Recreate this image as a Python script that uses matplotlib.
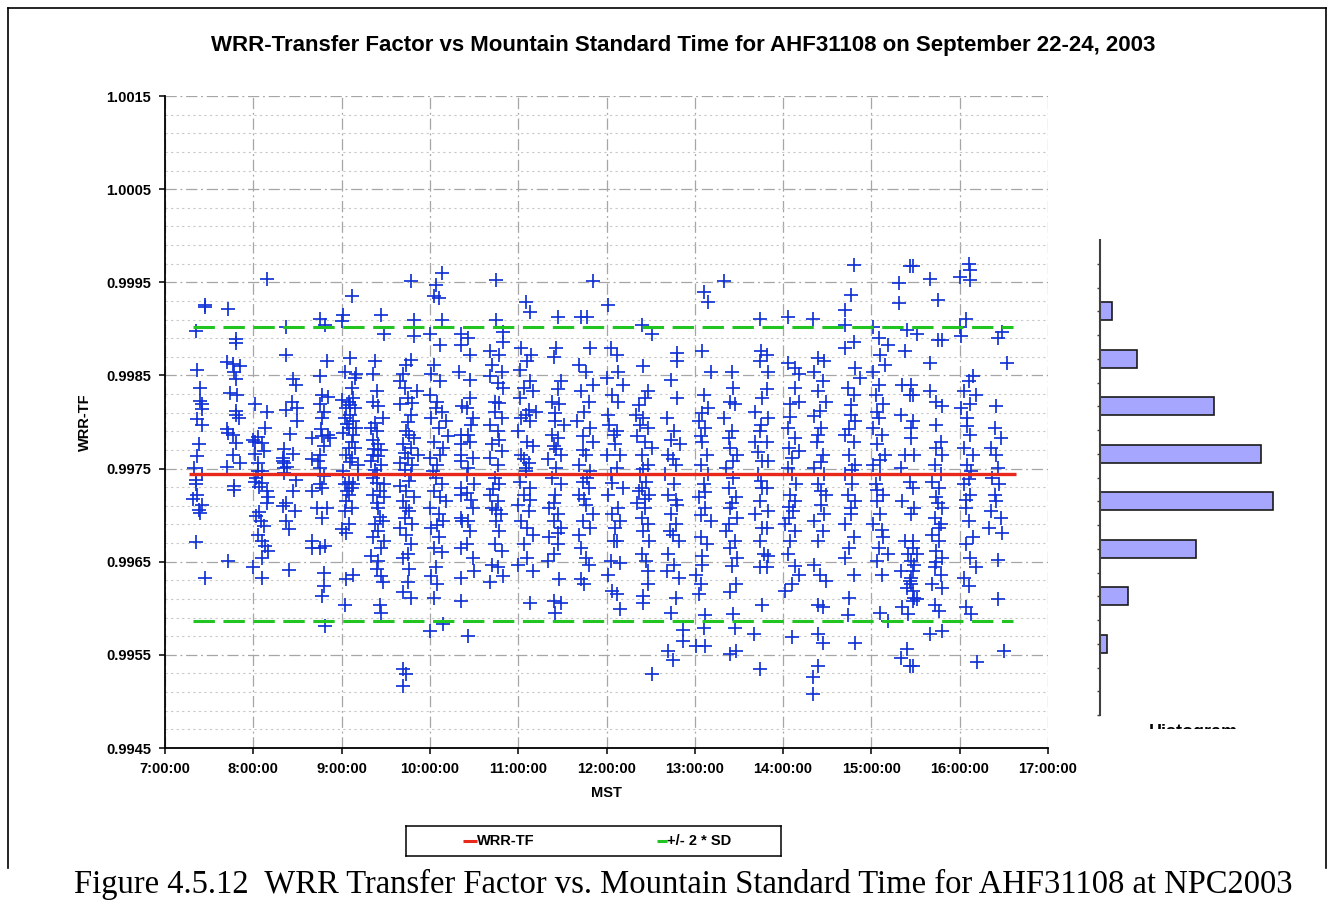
import numpy as np
import matplotlib.pyplot as plt
from matplotlib.lines import Line2D
from matplotlib.transforms import Bbox, TransformedBbox

plt.rcParams['font.family'] = ['Liberation Sans', 'DejaVu Sans']

# Measurement runs (three days overlaid). Each run starts at a clock time;
# each point is (minutes after the run start, WRR-TF in units of 1e-5 above 0.99)
stripe_start = ["7:19", "7:41", "8:00", "8:19", "8:39", "9:00", "9:18", "9:37",
                "9:58", "10:19", "10:39", "10:59", "11:18", "11:38", "11:58",
                "12:18", "12:39", "12:58", "13:18", "13:38", "13:58", "14:18",
                "14:39", "14:58", "15:18", "15:38", "15:58", "16:19"]

stripe_points = [
    [(8, 926), (8, 924), (2, 898), (3, 856), (5, 836), (5, 823), (6, 819), (6, 814), (3, 803), (6, 797),
     (4, 776), (3, 763), (1, 751), (6, 744), (2, 738), (2, 733), (3, 722), (0, 717), (6, 711), (5, 702),
     (4, 706), (2, 671), (8, 633)],
    [(2, 921), (7, 885), (7, 889), (1, 864), (5, 862), (10, 860), (6, 854), (7, 846), (3, 831), (8, 829),
     (7, 812), (7, 808), (9, 804), (1, 793), (2, 788), (5, 786), (7, 777), (5, 765), (10, 756), (1, 752),
     (6, 731), (6, 727), (2, 651)],
    [(9, 954), (1, 819), (9, 811), (8, 794), (3, 784), (0, 781), (1, 779), (6, 777), (7, 769), (1, 766),
     (3, 756), (6, 747), (3, 747), (2, 740), (1, 736), (6, 734), (4, 730), (9, 726), (10, 719), (9, 713),
     (2, 699), (5, 694), (3, 679), (6, 672), (8, 667), (10, 661), (6, 654), (0, 644), (6, 633), (7, 688),
     (4, 703)],
    [(3, 902), (3, 872), (8, 846), (10, 840), (7, 822), (11, 815), (3, 813), (11, 801), (6, 787), (2, 771),
     (8, 766), (1, 761), (1, 758), (2, 756), (2, 751), (10, 738), (8, 726), (3, 713), (1, 710), (9, 704),
     (3, 694), (5, 685), (5, 641), (2, 745), (4, 752)],
    [(1, 783), (1, 760), (1, 726), (1, 672), (1, 665), (6, 911), (10, 904), (11, 865), (6, 849), (8, 829),
     (12, 827), (6, 819), (9, 811), (8, 804), (12, 786), (8, 785), (13, 783), (6, 765), (5, 758), (6, 751),
     (9, 742), (6, 733), (8, 729), (4, 708), (11, 708), (8, 697), (6, 665), (10, 667), (9, 638), (9, 624),
     (8, 613), (10, 581), (7, 793), (9, 774)],
    [(7, 935), (1, 915), (0, 908), (6, 869), (2, 854), (10, 852), (9, 847), (7, 836), (0, 824), (5, 822),
     (8, 826), (3, 815), (9, 815), (6, 808), (2, 804), (8, 801), (5, 794), (10, 794), (1, 788), (7, 779),
     (5, 772), (9, 772), (3, 765), (7, 761), (11, 754), (1, 747), (11, 744), (5, 736), (2, 733), (8, 733),
     (7, 729), (5, 722), (3, 715), (7, 708), (2, 704), (5, 690), (0, 685), (3, 681), (8, 636), (3, 631),
     (2, 603), (6, 818), (4, 798), (8, 786), (6, 757), (4, 726)],
    [(9, 915), (11, 894), (5, 865), (3, 852), (6, 833), (3, 822), (7, 817), (10, 804), (2, 794), (6, 790),
     (3, 781), (7, 776), (9, 770), (3, 765), (7, 763), (2, 758), (9, 754), (5, 749), (3, 740), (6, 735),
     (11, 733), (8, 726), (3, 722), (11, 719), (6, 713), (7, 708), (10, 694), (5, 690), (7, 683), (3, 676),
     (11, 672), (9, 665), (2, 656), (7, 651), (6, 642), (9, 635), (10, 628), (8, 603), (9, 595), (5, 799),
     (4, 771), (6, 744), (8, 698)],
    [(10, 951), (12, 910), (12, 892), (10, 867), (7, 861), (5, 852), (3, 844), (6, 836), (14, 833), (8, 826),
     (11, 820), (3, 819), (10, 808), (7, 790), (9, 786), (12, 783), (5, 776), (10, 772), (15, 765), (8, 761),
     (3, 756), (11, 754), (6, 749), (10, 744), (3, 731), (7, 726), (12, 720), (5, 715), (9, 704), (6, 697),
     (11, 690), (3, 686), (7, 679), (10, 669), (8, 658), (5, 654), (9, 642), (8, 628), (5, 617), (10, 611),
     (5, 535), (7, 529), (5, 517), (8, 800), (6, 767), (9, 737), (7, 708)],
    [(10, 960), (6, 947), (5, 935), (8, 933), (10, 910), (2, 895), (9, 883), (5, 861), (3, 852), (9, 844),
     (2, 829), (7, 822), (10, 811), (13, 801), (3, 804), (8, 794), (14, 785), (5, 779), (11, 772), (2, 761),
     (7, 754), (6, 740), (10, 733), (5, 726), (9, 719), (13, 715), (2, 708), (8, 701), (11, 694), (3, 686),
     (8, 676), (5, 665), (10, 660), (6, 644), (3, 635), (7, 626), (5, 611), (2, 576), (11, 583), (6, 815),
     (9, 765), (4, 747), (7, 689)],
    [(2, 894), (2, 883), (1, 854), (3, 817), (2, 786), (2, 776), (2, 765), (2, 758), (2, 729), (2, 722),
     (2, 697), (3, 694), (2, 665), (2, 633), (2, 608), (7, 890), (8, 872), (8, 845), (6, 815), (10, 804),
     (7, 786), (8, 779), (10, 761), (7, 751), (11, 733), (6, 724), (10, 708), (7, 694), (8, 683), (6, 669),
     (10, 654), (11, 640), (7, 570), (8, 826), (9, 797), (6, 743), (9, 716)],
    [(6, 952), (6, 910), (11, 897), (11, 886), (2, 876), (8, 872), (3, 861), (10, 854), (2, 849), (7, 842),
     (11, 836), (5, 822), (8, 820), (10, 804), (2, 797), (7, 790), (3, 776), (10, 769), (2, 761), (7, 754),
     (5, 740), (8, 733), (2, 722), (7, 715), (3, 708), (9, 701), (6, 694), (8, 683), (5, 669), (10, 661),
     (3, 647), (7, 644), (2, 628), (11, 635), (5, 811), (8, 781), (4, 728), (6, 706)],
    [(6, 929), (9, 918), (3, 879), (10, 872), (7, 865), (2, 856), (9, 844), (5, 836), (11, 833), (2, 826),
     (8, 813), (13, 811), (3, 804), (9, 801), (1, 790), (7, 779), (11, 774), (3, 765), (8, 756), (6, 747),
     (2, 736), (9, 729), (5, 722), (1, 711), (8, 704), (3, 694), (7, 686), (11, 679), (5, 669), (7, 654),
     (1, 647), (11, 640), (9, 606), (6, 808), (5, 760), (6, 751), (9, 716)],
    [(9, 913), (8, 879), (6, 870), (11, 844), (9, 835), (5, 822), (10, 819), (7, 801), (13, 797), (5, 786),
     (9, 783), (6, 774), (11, 765), (2, 760), (8, 751), (5, 740), (11, 733), (7, 722), (3, 708), (9, 701),
     (6, 694), (11, 686), (3, 676), (9, 669), (6, 658), (2, 651), (10, 631), (6, 608), (11, 606), (7, 595),
     (7, 810), (8, 771), (6, 713), (9, 681)],
    [(13, 951), (5, 913), (9, 913), (11, 879), (3, 861), (8, 854), (13, 840), (5, 833), (10, 822), (7, 811),
     (2, 801), (11, 794), (6, 785), (13, 779), (8, 765), (3, 754), (11, 747), (6, 736), (10, 729), (3, 722),
     (8, 711), (13, 701), (6, 694), (11, 686), (3, 679), (8, 654), (10, 647), (5, 631), (7, 626), (6, 770),
     (9, 740), (7, 717), (5, 665)],
    [(3, 926), (5, 879), (2, 847), (6, 829), (3, 808), (7, 786), (2, 765), (5, 744), (3, 722), (6, 701),
     (7, 672), (5, 651), (3, 636), (6, 619), (9, 872), (10, 854), (13, 840), (10, 822), (9, 790), (11, 765),
     (9, 751), (13, 729), (10, 708), (11, 694), (9, 672), (11, 649), (9, 615), (11, 599), (4, 797),
     (8, 776), (6, 735), (8, 686)],
    [(6, 904), (13, 894), (7, 860), (10, 833), (8, 826), (2, 808), (7, 804), (5, 797), (10, 794), (3, 785),
     (8, 779), (13, 772), (6, 765), (10, 754), (5, 744), (9, 736), (6, 729), (11, 722), (3, 713), (8, 708),
     (6, 697), (10, 690), (7, 683), (11, 672), (6, 658), (9, 651), (10, 640), (10, 626), (7, 613), (7, 606),
     (13, 529), (4, 818), (7, 750), (4, 726), (8, 717)],
    [(9, 874), (9, 865), (5, 845), (9, 826), (2, 804), (7, 790), (11, 776), (3, 765), (8, 754), (1, 744),
     (7, 733), (3, 722), (9, 711), (5, 701), (8, 690), (6, 679), (10, 672), (3, 658), (7, 647), (2, 640),
     (10, 633), (8, 611), (5, 595), (13, 577), (13, 565), (3, 554), (6, 544), (5, 781), (6, 760), (8, 716),
     (4, 683)],
    [(8, 940), (11, 929), (7, 876), (13, 854), (8, 829), (11, 815), (5, 801), (9, 794), (7, 779), (10, 765),
     (6, 754), (11, 744), (8, 733), (5, 719), (9, 708), (13, 694), (6, 676), (10, 669), (7, 647), (3, 636),
     (6, 626), (5, 615), (9, 593), (8, 579), (3, 560), (9, 560), (7, 810), (6, 785), (9, 725), (6, 700),
     (7, 656)],
    [(2, 951), (7, 854), (6, 822), (9, 819), (2, 804), (7, 790), (6, 772), (11, 765), (3, 751), (8, 740),
     (5, 729), (10, 719), (6, 708), (11, 697), (3, 683), (9, 672), (6, 665), (11, 654), (7, 645), (10, 626),
     (6, 617), (8, 594), (9, 579), (6, 551), (10, 554), (8, 836), (5, 783), (8, 758), (7, 713), (5, 690)],
    [(6, 911), (7, 876), (6, 865), (8, 826), (3, 811), (6, 790), (3, 779), (8, 758), (5, 744), (8, 729),
     (6, 715), (3, 701), (8, 686), (6, 672), (9, 658), (6, 644), (8, 604), (2, 572), (6, 535), (11, 872),
     (12, 854), (11, 835), (12, 804), (11, 779), (12, 758), (11, 729), (12, 704), (11, 686), (12, 656),
     (11, 644), (7, 797), (5, 768), (7, 737)],
    [(5, 913), (5, 863), (10, 858), (13, 851), (10, 836), (7, 819), (13, 822), (5, 794), (10, 783), (6, 772),
     (13, 769), (8, 761), (5, 751), (11, 733), (7, 722), (10, 715), (9, 704), (6, 697), (3, 690), (10, 683),
     (7, 672), (5, 658), (10, 645), (13, 636), (8, 626), (3, 619), (8, 569), (7, 805), (8, 744), (6, 709)],
    [(2, 911), (6, 869), (10, 865), (3, 854), (9, 844), (6, 833), (11, 822), (3, 806), (8, 794), (5, 779),
     (9, 765), (3, 751), (10, 744), (6, 733), (11, 722), (8, 711), (10, 701), (3, 694), (9, 683), (6, 672),
     (3, 647), (7, 636), (11, 629), (6, 604), (9, 601), (6, 572), (9, 563), (6, 538), (2, 526), (2, 508),
     (7, 812), (6, 786), (8, 757), (8, 726)],
    [(9, 969), (7, 936), (3, 920), (3, 904), (9, 886), (3, 879), (10, 858), (13, 847), (5, 836), (9, 829),
     (7, 808), (10, 801), (3, 786), (9, 779), (6, 765), (10, 754), (3, 744), (8, 733), (5, 722), (10, 715),
     (7, 701), (3, 690), (9, 676), (6, 665), (3, 654), (9, 636), (6, 611), (5, 593), (10, 563), (7, 818),
     (6, 792), (8, 748), (7, 708)],
    [(3, 902), (7, 890), (13, 883), (8, 872), (11, 861), (3, 854), (7, 840), (5, 829), (10, 819), (7, 804),
     (3, 794), (9, 786), (6, 776), (11, 765), (3, 754), (8, 744), (5, 733), (10, 722), (6, 715), (8, 701),
     (3, 690), (10, 676), (7, 665), (13, 658), (6, 651), (9, 636), (8, 595), (13, 586), (6, 811),
     (8, 759), (6, 727), (9, 684)],
    [(1, 949), (8, 967), (1, 928), (6, 899), (5, 876), (3, 840), (8, 829), (2, 808), (9, 794), (5, 765),
     (2, 751), (8, 736), (3, 715), (9, 701), (5, 672), (7, 658), (9, 651), (2, 640), (8, 629), (6, 622),
     (10, 608), (3, 601), (7, 594), (6, 556), (8, 538), (2, 547), (10, 967), (13, 894), (9, 840), (10, 829),
     (10, 801), (9, 783), (11, 765), (10, 729), (11, 708), (10, 672), (10, 665), (13, 658), (11, 647),
     (10, 640), (9, 633), (9, 626), (10, 619), (11, 611), (13, 610), (10, 538)],
    [(2, 954), (7, 931), (10, 888), (7, 888), (2, 863), (2, 833), (6, 822), (10, 817), (6, 797), (9, 779),
     (6, 772), (10, 765), (5, 754), (9, 744), (3, 736), (8, 729), (6, 719), (10, 708), (5, 697), (9, 690),
     (3, 679), (8, 672), (6, 661), (10, 654), (5, 644), (9, 636), (3, 626), (10, 622), (5, 604), (8, 597),
     (2, 572), (10, 576), (7, 713), (8, 686), (6, 650)],
    [(8, 970), (9, 963), (2, 956), (9, 952), (6, 911), (2, 902), (3, 892), (11, 849), (8, 844), (5, 833),
     (13, 829), (9, 819), (3, 815), (7, 804), (9, 786), (5, 772), (11, 765), (7, 754), (10, 747), (5, 733),
     (9, 722), (6, 708), (8, 694), (11, 676), (6, 669), (9, 654), (13, 644), (5, 633), (8, 624), (6, 601),
     (10, 594), (14, 542), (7, 796), (8, 739), (6, 716)],
    [(10, 897), (7, 890), (13, 863), (6, 817), (5, 794), (9, 783), (2, 772), (6, 765), (7, 751), (3, 740),
     (8, 733), (5, 722), (6, 715), (2, 704), (9, 697), (1, 686), (10, 681), (7, 652), (7, 610), (11, 554)],
]

# mean and +/- 2 SD levels, with the time span they were drawn over
mean_tf = 0.99744
sd2_upper = 0.99902
sd2_lower = 0.99586
mean_span = ["7:16", "16:38"]
sd_span = ["7:19", "16:36"]

# histogram of WRR-TF (bar lengths, top bin first)
hist_counts = [0, 12, 37, 114, 161, 173, 96, 28, 7, 0]

hour_ticks = list(range(7, 18))
y_ticks = [0.9945, 0.9955, 0.9965, 0.9975, 0.9985, 0.9995, 1.0005, 1.0015]


def to_hours(hhmm):
    h, m = hhmm.split(":")
    return int(h) + int(m) / 60.0


times, values = [], []
for start, pts in zip(stripe_start, stripe_points):
    t0 = to_hours(start)
    for off, v in pts:
        times.append(t0 + off / 60.0)
        values.append(0.99 + v * 1e-5)

W, H = 1334, 901
fig = plt.figure(figsize=(W / 100, H / 100), dpi=100)

# main scatter axes
ax = fig.add_axes([165 / W, 1 - 748 / H, (1048 - 165) / W, (748 - 96) / H])
ax.plot(times, values, "+", color="#1232d6", ms=10.5, mew=1.25, zorder=3)
ax.plot([to_hours(t) for t in mean_span], [mean_tf, mean_tf],
        color="#e8281a", lw=2.4, zorder=4, solid_capstyle="butt")
for lvl in (sd2_upper, sd2_lower):
    ax.plot([to_hours(t) for t in sd_span], [lvl, lvl], color="#22c422", lw=2.2,
            dashes=(7, 2.8), zorder=4)

ax.set_xlim(7, 17)
ax.set_ylim(0.9945, 1.0015)
ax.set_xticks(hour_ticks)
ax.set_xticklabels([f"{h}:00:00" for h in hour_ticks])
ax.set_yticks(y_ticks)
ax.set_yticklabels([f"{v:.4f}" for v in y_ticks])
ax.set_yticks(np.arange(0.9945, 1.00151, 0.0002), minor=True)
ax.grid(which="major", color="#a6a6a6", linestyle=(0, (9, 3, 1.5, 3)), lw=0.9)
ax.grid(which="minor", axis="y", color="#c8c8c8", linestyle=(0, (2, 3)), lw=0.8)
ax.set_axisbelow(True)
for s in ("top", "right"):
    ax.spines[s].set_visible(False)
for s in ("left", "bottom"):
    ax.spines[s].set_linewidth(1.3)
ax.tick_params(which="major", direction="out", length=4, width=1.1, labelsize=10.5, pad=6)
ax.tick_params(axis="y", which="minor", length=0)
for lab in ax.get_xticklabels() + ax.get_yticklabels():
    lab.set_fontweight("bold")
ax.set_xlabel("MST", fontsize=10.5, fontweight="bold", labelpad=7)
ax.set_ylabel("WRR-TF", fontsize=10.5, fontweight="bold", labelpad=10)

fig.text(683 / W, 1 - 45 / H,
         "WRR-Transfer Factor vs Mountain Standard Time for AHF31108 on September 22-24, 2003",
         ha="center", va="center", fontsize=16, fontweight="bold")

# histogram axes
hax = fig.add_axes([1100 / W, 1 - 715 / H, 200 / W, (715 - 240) / H])
pos = np.arange(len(hist_counts))
hax.barh(pos, hist_counts, height=0.37, color="#a6a6ff", edgecolor="#1a1a1a", lw=1.2)
hax.set_ylim(len(hist_counts) - 0.5, -0.5)
hax.set_xlim(0, 200)
hax.set_xticks([])
hax.set_yticks(pos)
hax.set_yticks(pos + 0.5, minor=True)
hax.set_yticklabels([])
hax.tick_params(axis="y", which="both", direction="out", length=2.5, width=1, color="#404040")
for s in ("top", "right", "bottom"):
    hax.spines[s].set_visible(False)
hax.spines["left"].set_color("#404040")
hax.spines["left"].set_linewidth(1.5)
hax.patch.set_visible(False)

htxt = fig.text(1193 / W, 1 - 737 / H, "Histogram", ha="center", va="baseline",
                fontsize=13, fontweight="bold")
htxt.set_clip_box(TransformedBbox(Bbox.from_extents(0, 1 - 729 / H, 1, 1), fig.transFigure))
htxt.set_clip_on(True)

# legend box
lax = fig.add_axes([406 / W, 1 - 856 / H, 375 / W, 30 / H])
lax.set_xlim(0, 375)
lax.set_ylim(0, 30)
lax.set_xticks([])
lax.set_yticks([])
for s in lax.spines.values():
    s.set_linewidth(1.1)
lax.plot([57, 71], [15, 15], color="#e8281a", lw=2.2, solid_capstyle="butt")
lax.text(71, 15, "WRR-TF", ha="left", va="center", fontsize=10.5, fontweight="bold")
lax.plot([251, 261], [15, 15], color="#22c422", lw=2.2, solid_capstyle="butt")
lax.text(261, 15, "+/- 2 * SD", ha="left", va="center", fontsize=10.5, fontweight="bold")

# outer frame of the chart object
frame_kw = dict(transform=fig.transFigure, color="black", lw=1.2)
fig.add_artist(Line2D([8 / W, 1326 / W], [1 - 8 / H, 1 - 8 / H], **frame_kw))
fig.add_artist(Line2D([8 / W, 8 / W], [1 - 868 / H, 1 - 8 / H], **frame_kw))
fig.add_artist(Line2D([1326 / W, 1326 / W], [1 - 868 / H, 1 - 8 / H], **frame_kw))

fig.text(683 / W, 1 - 884 / H,
         "Figure 4.5.12  WRR Transfer Factor vs. Mountain Standard Time for AHF31108 at NPC2003",
         ha="center", va="center", family="Liberation Serif", fontsize=23.5)

fig.savefig("out.png", dpi=100)
